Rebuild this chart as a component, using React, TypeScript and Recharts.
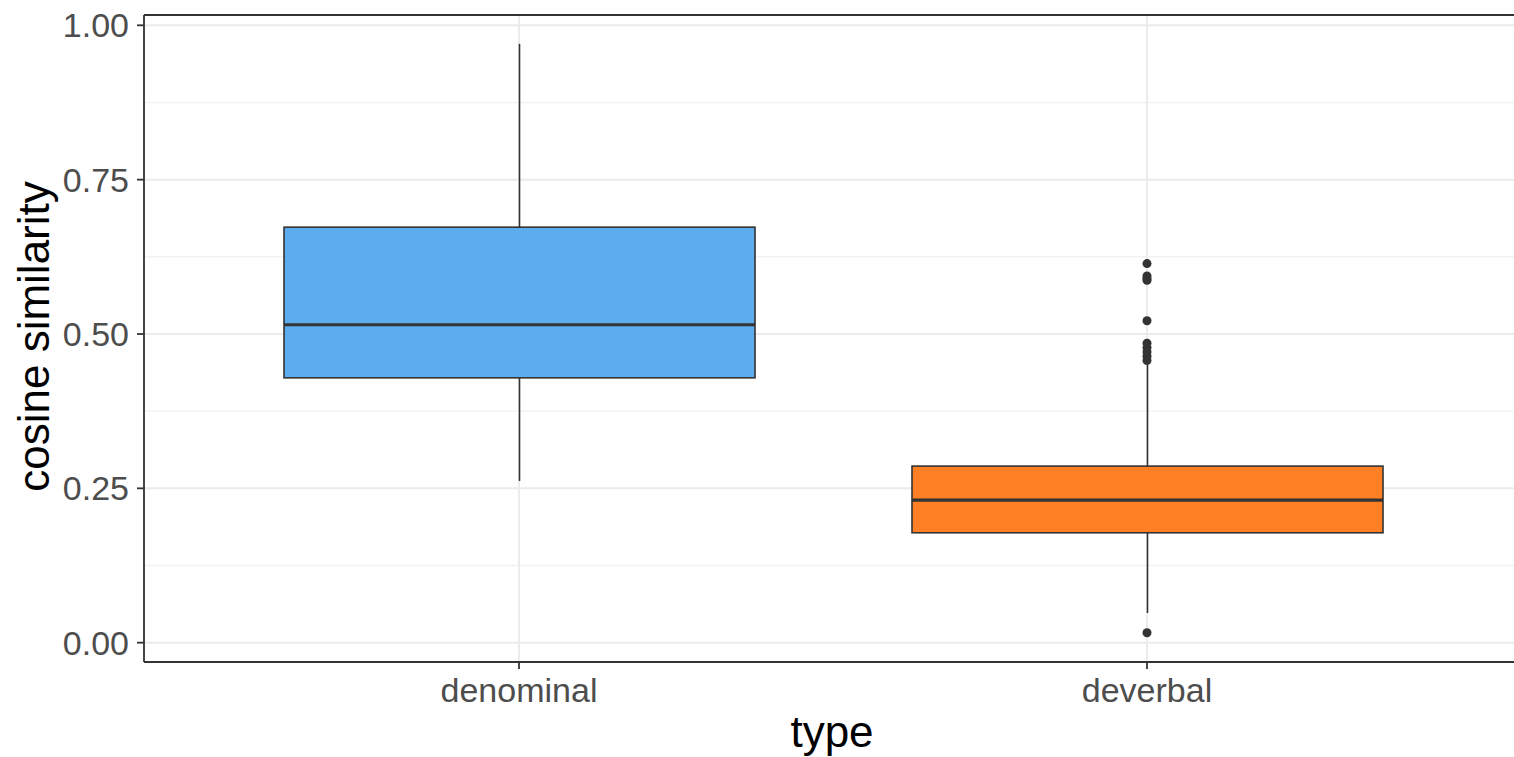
import React from 'react';
import { ComposedChart, Bar, Scatter, XAxis, YAxis, CartesianGrid, ReferenceLine } from 'recharts';

const categories = ['denominal', 'deverbal'];
const whiskerLow = [0.262, 0.048];
const q1 = [0.429, 0.178];
const median = [0.515, 0.231];
const q3 = [0.673, 0.286];
const whiskerHigh = [0.97, 0.45];
const boxColors = ['#5CACEE', '#FF7F24'];

const outlierCategory = ['deverbal', 'deverbal', 'deverbal', 'deverbal', 'deverbal', 'deverbal', 'deverbal', 'deverbal', 'deverbal', 'deverbal', 'deverbal'];
const outlierValues = [0.614, 0.594, 0.59, 0.587, 0.5215, 0.485, 0.478, 0.471, 0.464, 0.457, 0.016];

const yTicks = [0, 0.25, 0.5, 0.75, 1];
const yMinor = [0.125, 0.375, 0.625, 0.875];
const yDomain = [-0.0313, 1.0167];

const boxData = categories.map((c, i) => ({
  type: c,
  range: [whiskerLow[i], whiskerHigh[i]],
  low: whiskerLow[i],
  q1: q1[i],
  med: median[i],
  q3: q3[i],
  high: whiskerHigh[i],
  color: boxColors[i],
}));

const outlierData = outlierValues.map((v, i) => ({ type: outlierCategory[i], value: v }));

const FONT = '"Liberation Sans", Arial, sans-serif';

const BoxShape = (props: any) => {
  const { x, y, width, height, payload } = props;
  if (x == null || y == null) return null;
  const top = Math.min(y, y + height);
  const bottom = Math.max(y, y + height);
  const low = payload.low;
  const high = payload.high;
  const py = (v: number) => bottom - ((v - low) / (high - low)) * (bottom - top);
  const cx = x + width / 2;
  const yq1 = py(payload.q1);
  const yq3 = py(payload.q3);
  const ym = py(payload.med);
  return (
    <g>
      <line x1={cx} x2={cx} y1={top} y2={yq3} stroke="#333333" strokeWidth={1.6} />
      <line x1={cx} x2={cx} y1={yq1} y2={bottom} stroke="#333333" strokeWidth={1.6} />
      <rect x={x} y={yq3} width={width} height={yq1 - yq3} fill={payload.color} stroke="#333333" strokeWidth={1.6} />
      <line x1={x} x2={x + width} y1={ym} y2={ym} stroke="#333333" strokeWidth={3.2} />
    </g>
  );
};

const Dot = (props: any) => {
  const { cx, cy } = props;
  if (cx == null || cy == null) return null;
  return <circle cx={cx} cy={cy} r={4.5} fill="#333333" />;
};

const YLabel = (props: any) => {
  const vb = props.viewBox || { x: 0, y: 15, width: 144, height: 647 };
  const cy = vb.y + vb.height / 2 - 2;
  const bx = vb.x + 49;
  return (
    <text x={bx} y={cy} transform={`rotate(-90, ${bx}, ${cy})`} textAnchor="middle" fontFamily={FONT} fontSize={44} fill="#000000">
      cosine similarity
    </text>
  );
};

const XLabel = (props: any) => {
  const vb = props.viewBox || { x: 144, y: 662, width: 1378, height: 95 };
  return (
    <text x={vb.x + vb.width / 2 - 1} y={vb.y + 85} textAnchor="middle" fontFamily={FONT} fontSize={44} fill="#000000">
      type
    </text>
  );
};

export default function App() {
  return (
    <div style={{ position: 'fixed', left: 0, top: 0, width: 1514, height: 757, overflow: 'hidden', background: '#ffffff' }}>
      <ComposedChart width={1540} height={757} data={boxData} margin={{ top: 15, right: 18, left: 0, bottom: 0 }}>
        <CartesianGrid
          horizontalValues={yMinor}
          vertical={false}
          stroke="#F2F2F2"
          strokeWidth={1.4}
        />
        <CartesianGrid stroke="#EBEBEB" strokeWidth={2} />
        <XAxis
          dataKey="type"
          type="category"
          allowDuplicatedCategory={false}
          padding={{ left: 61, right: 61 }}
          height={95}
          tickSize={7}
          tickMargin={9}
          tick={{ fontFamily: FONT, fontSize: 34, fill: '#4D4D4D' }}
          axisLine={{ stroke: '#333333', strokeWidth: 1.8 }}
          tickLine={{ stroke: '#333333', strokeWidth: 1.8 }}
          label={<XLabel />}
        />
        <YAxis
          type="number"
          domain={yDomain}
          ticks={yTicks}
          allowDataOverflow={true}
          width={144}
          tickSize={7}
          tickMargin={8}
          tickFormatter={(v: number) => v.toFixed(2)}
          tick={{ fontFamily: FONT, fontSize: 34, fill: '#4D4D4D' }}
          axisLine={{ stroke: '#333333', strokeWidth: 1.8 }}
          tickLine={{ stroke: '#333333', strokeWidth: 1.8 }}
          label={<YLabel />}
        />
        <ReferenceLine y={yDomain[1]} stroke="#333333" strokeWidth={1.8} ifOverflow="visible" />
        <Bar dataKey="range" barSize={471} shape={<BoxShape />} isAnimationActive={false} />
        <Scatter data={outlierData} dataKey="value" shape={<Dot />} isAnimationActive={false} />
      </ComposedChart>
    </div>
  );
}
